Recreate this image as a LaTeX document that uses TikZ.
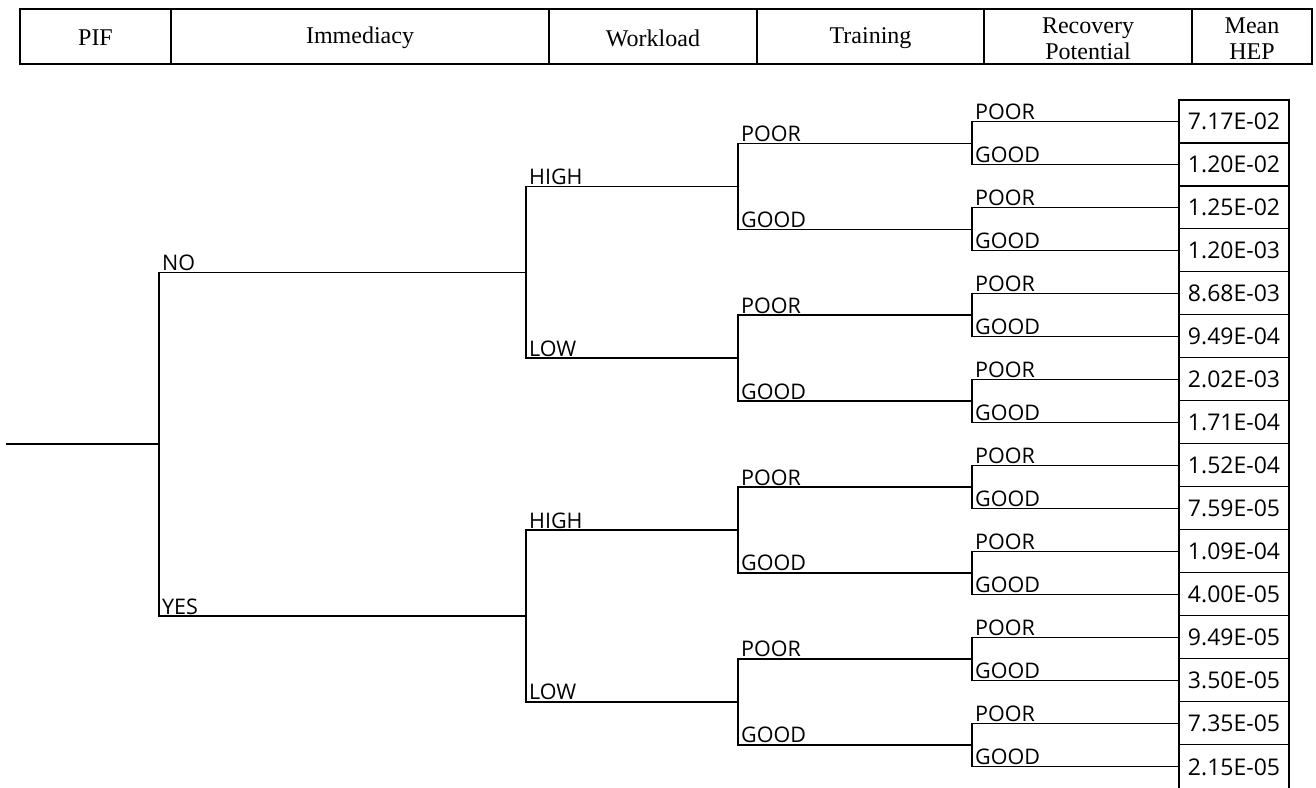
\documentclass[tikz,border=0pt]{standalone}
\usepackage{fontspec}
\setmainfont{Liberation Serif}
\newfontfamily\lblfont{Open Sans}
\begin{document}
\begin{tikzpicture}[x=1pt,y=-1pt,
  hcell/.style={draw, line width=2.3pt, inner sep=0pt, minimum height=55pt},
  htext/.style={inner sep=0pt, align=center, font=\fontsize{24}{26}\selectfont},
  branch/.style={line width=1.3pt},
  lbl/.style={anchor=base west, inner sep=0pt, font=\lblfont\fontsize{21.5}{24}\selectfont},
  hepbox/.style={draw, line width=1.4pt, minimum width=110pt, minimum height=42.97pt, inner sep=0pt, font=\lblfont\fontsize{23}{24}\selectfont}]
\fill[white] (0,0) rectangle (1316,787);
\useasboundingbox (0,0) rectangle (1316,787);
% header
\node[hcell, minimum width=151pt] (hpif) at (95.5,36.5) {};
\node[hcell, minimum width=378pt] (himm) at (360,36.5) {};
\node[hcell, minimum width=208pt] (hwl) at (653,36.5) {};
\node[hcell, minimum width=227pt] (htr) at (870.5,36.5) {};
\node[hcell, minimum width=208pt] (hrp) at (1088,36.5) {};
\node[hcell, minimum width=120pt] (hmh) at (1252,36.5) {};
\node[htext] (tpif) at ([yshift=-1.5pt]hpif.center) {PIF};
\node[htext] (timm) at ([yshift=-1.5pt]himm.center) {Immediacy};
\node[htext] (twl) at ([yshift=-1.5pt]hwl.center) {Workload};
\node[htext] (ttr) at ([yshift=-1.5pt]htr.center) {Training};
\node[htext] (trp) at ([yshift=-2pt]hrp.center) {Recovery\\Potential};
\node[htext] (tmh) at ([yshift=-2pt]hmh.center) {Mean\\HEP};
% root
\coordinate (start) at (6,444.1);
\coordinate (n0) at (159,444.1);
\draw[line width=2pt] (start) -- (n0);
% immediacy
\foreach \i in {0,1}{
  \pgfmathsetmacro\yy{272.2+343.8*\i}
  \coordinate (im\i) at (159,\yy);
  \coordinate (wj\i) at (526,\yy);
}
\draw[branch] (wj0) -- (im0) -- (im1) -- (wj1);
\node[lbl] (lno) at ([shift={(3,-2)}]im0) {NO};
\node[lbl] (lyes) at ([shift={(3,-2)}]im1) {YES};
% workload
\foreach \k in {0,...,3}{
  \pgfmathsetmacro\yy{186.2+171.9*\k}
  \coordinate (wl\k) at (526,\yy);
  \coordinate (tj\k) at (738,\yy);
  \node[lbl] (lwl\k) at ([shift={(3,-2)}]wl\k) {\ifodd\k LOW\else HIGH\fi};
}
\draw[branch] (tj0) -- (wl0) -- (wl1) -- (tj1);
\draw[branch] (tj2) -- (wl2) -- (wl3) -- (tj3);
% training
\foreach \j in {0,...,7}{
  \pgfmathsetmacro\yy{143.2+85.95*\j}
  \coordinate (tr\j) at (738,\yy);
  \coordinate (rj\j) at (972,\yy);
  \node[lbl] (ltr\j) at ([shift={(3,-2)}]tr\j) {\ifodd\j GOOD\else POOR\fi};
}
\foreach \a/\b in {0/1,2/3,4/5,6/7}{
  \draw[branch] (rj\a) -- (tr\a) -- (tr\b) -- (rj\b);
}
% leaves and HEP boxes
\foreach \v [count=\n from 0] in {7.17E-02,1.20E-02,1.25E-02,1.20E-03,8.68E-03,9.49E-04,2.02E-03,1.71E-04,1.52E-04,7.59E-05,1.09E-04,4.00E-05,9.49E-05,3.50E-05,7.35E-05}{
  \pgfmathsetmacro\yy{121.7+42.97*\n}
  \pgfmathsetmacro\yb{121.35+42.97*\n}
  \coordinate (lf\n) at (972,\yy);
  \node[hepbox] (hep\n) at (1234,\yb) {\v};
  \node[lbl] (llf\n) at ([shift={(3,-2)}]lf\n) {\ifodd\n GOOD\else POOR\fi};
}
% last box runs past the lower edge of the picture
\coordinate (lf15) at (972,766.25);
\node[hepbox, minimum height=48pt] (hep15) at (1234,768.4) {\raisebox{2.5pt}{2.15E-05}};
\node[lbl] (llf15) at ([shift={(3,-2)}]lf15) {GOOD};
\foreach \a/\b in {0/1,2/3,4/5,6/7,8/9,10/11,12/13,14/15}{
  \draw[branch] (lf\a -| hep\a.west) -- (lf\a) -- (lf\b) -- (lf\b -| hep\b.west);
}
\end{tikzpicture}
\end{document}
